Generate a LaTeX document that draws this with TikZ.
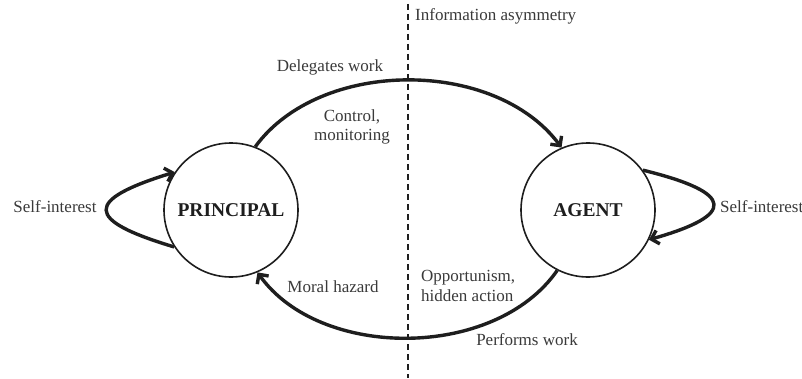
\documentclass[tikz,border=0pt]{standalone}
\usepackage{fontspec}
\setmainfont{Liberation Serif}
\usetikzlibrary{arrows.meta}
\definecolor{ink}{HTML}{1E1E1E}
\definecolor{txt}{HTML}{3A3A3A}
\begin{document}
\begin{tikzpicture}[x=1pt,y=1pt,
  party/.style={circle,draw=ink,line width=1.6pt,minimum size=134pt,inner sep=0pt,
    font=\fontsize{19.5}{22}\selectfont\bfseries,text=ink},
  lbl/.style={font=\fontsize{17}{19.5}\selectfont,text=txt,inner sep=0pt},
  flow/.style={draw=ink,line width=3.4pt,-{Straight Barb[length=7pt,width=14pt]}},
  divider/.style={draw=ink,line width=1.2pt,dash pattern=on 6pt off 4pt}]
\useasboundingbox[fill=white] (0,0) rectangle (802,378);

% the two parties
\node[party] (P) at (231,168) {PRINCIPAL};
\node[party] (A) at (588,168) {AGENT};

% dividing line for the information asymmetry
\coordinate (dtop) at (408,374);
\coordinate (dbot) at (408,0);
\draw[divider] (dtop) -- (dbot);
\node[lbl,anchor=west] (info) at (415,362) {Information asymmetry};

% delegation on top, performance below
\draw[flow] (P.69) .. controls (320,320) and (495,320) .. (A.113);
\draw[flow] (A.243) .. controls (495,18) and (320,18) .. (P.293);

% self-interest loops
\draw[flow] (P.213) .. controls (84,158) and (84,178) .. (P.146);
\draw[flow] (A.36) .. controls (736,185) and (736,163) .. (A.-26);

% labels
\node[lbl] (selfP) at (55,171) {Self-interest};
\node[lbl,anchor=west] (selfA) at (720,171) {Self-interest};
\node[lbl] (deleg) at (330,311) {Delegates work};
\node[lbl,align=center] (ctrl) at (352,251) {Control,\\monitoring};
\node[lbl] (moral) at (333,91) {Moral hazard};
\node[lbl,align=left,anchor=west] (opp) at (421,92) {Opportunism,\\hidden action};
\node[lbl] (perf) at (527,38) {Performs work};
\end{tikzpicture}
\end{document}
